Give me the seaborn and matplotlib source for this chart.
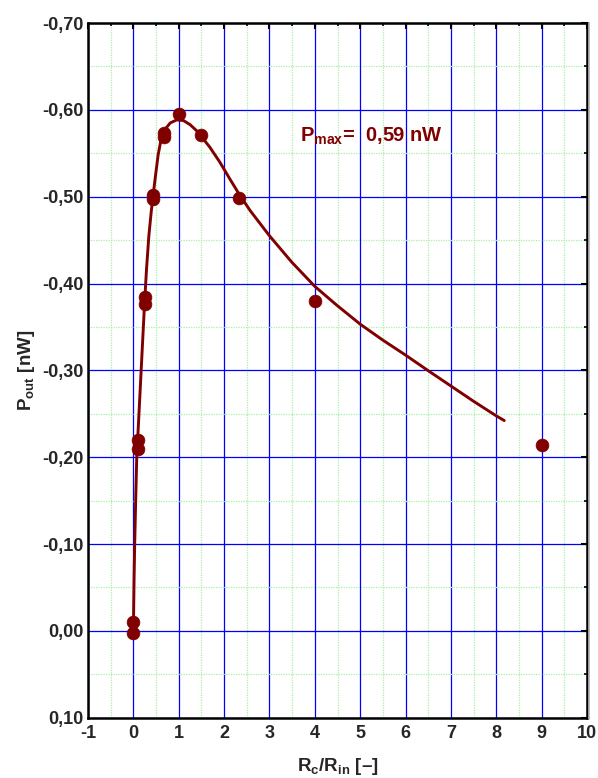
import numpy as np
import pandas as pd
import matplotlib
matplotlib.use("Agg")
import matplotlib.pyplot as plt
from matplotlib.ticker import MultipleLocator, FuncFormatter
import seaborn as sns

# Measured output power versus load ratio
ratio_meas = [0.0, 0.0, 0.11, 0.11, 0.25, 0.25, 0.43, 0.43, 0.67, 0.67, 1.0, 1.5, 2.33, 4.0, 9.0]
power_meas = [0.003, -0.010, -0.220, -0.210, -0.384, -0.377, -0.502, -0.497,
              -0.573, -0.569, -0.595, -0.571, -0.499, -0.380, -0.214]

# Fitted curve
ratio_fit = [0.0, 0.015, 0.029, 0.051, 0.074, 0.125, 0.176, 0.247, 0.29, 0.341,
             0.392, 0.436, 0.487, 0.545, 0.61, 0.704, 0.813, 0.959, 1.104, 1.249,
             1.394, 1.503, 1.685, 1.903, 2.12, 2.33, 2.574, 3.0, 3.49, 4.0,
             4.485, 5.0, 5.5, 6.0, 6.5, 7.0, 7.5, 8.0, 8.176]
power_fit = [0.0, -0.059, -0.101, -0.151, -0.200, -0.252, -0.305, -0.378, -0.417, -0.455,
             -0.482, -0.502, -0.524, -0.548, -0.566, -0.578, -0.585, -0.5885, -0.5877, -0.583,
             -0.576, -0.569, -0.557, -0.540, -0.521, -0.503, -0.484, -0.455, -0.4247, -0.3967,
             -0.375, -0.3532, -0.3348, -0.3176, -0.2996, -0.282, -0.2644, -0.2476, -0.2422]

x_ticks = list(range(-1, 11))
y_ticks = [0.10, 0.00, -0.10, -0.20, -0.30, -0.40, -0.50, -0.60, -0.70]
p_max_label = "0,59 nW"

sns.set_style("white")
plt.rcParams["font.family"] = ["Liberation Sans", "DejaVu Sans"]
plt.rcParams["font.weight"] = "bold"
plt.rcParams["mathtext.fontset"] = "custom"
plt.rcParams["mathtext.rm"] = "Liberation Sans:bold"
plt.rcParams["mathtext.it"] = "Liberation Sans:bold"
plt.rcParams["mathtext.bf"] = "Liberation Sans:bold"

maroon = "#800000"

fig = plt.figure(figsize=(5.98, 7.78), dpi=100)
ax = fig.add_axes([0.1472, 0.0775, 0.9816 - 0.1472, 0.9704 - 0.0775])

meas = pd.DataFrame({"ratio": ratio_meas, "power": power_meas})
fit = pd.DataFrame({"ratio": ratio_fit, "power": power_fit})

sns.lineplot(data=fit, x="ratio", y="power", sort=False, estimator=None,
             color=maroon, linewidth=2.1, ax=ax, zorder=3)
sns.scatterplot(data=meas, x="ratio", y="power", color=maroon, s=85,
                edgecolor=maroon, linewidth=0.5, ax=ax, zorder=4)

ax.set_xlim(-1, 10)
ax.set_ylim(0.10, -0.70)
ax.xaxis.set_major_locator(MultipleLocator(1))
ax.xaxis.set_minor_locator(MultipleLocator(0.5))
ax.yaxis.set_major_locator(MultipleLocator(0.1))
ax.yaxis.set_minor_locator(MultipleLocator(0.05))
ax.set_xticks(x_ticks)
ax.set_yticks(y_ticks)


def comma_fmt(v, pos):
    if abs(v) < 1e-9:
        v = 0.0
    return f"{v:.2f}".replace(".", ",")


ax.yaxis.set_major_formatter(FuncFormatter(comma_fmt))
ax.xaxis.set_major_formatter(FuncFormatter(lambda v, p: f"{int(round(v))}"))

ax.grid(which="major", color="#0000ff", linewidth=0.9)
ax.grid(which="minor", color="#a8f0a8", linewidth=0.9, linestyle=(0, (1, 1)))
ax.set_axisbelow(True)

for side in ["left", "right", "top", "bottom"]:
    ax.spines[side].set_visible(True)
    ax.spines[side].set_color("black")
    ax.spines[side].set_linewidth(1.8)

ax.tick_params(which="major", direction="in", length=4, width=1.5,
               top=True, right=True, labelsize=13, pad=5, color="black")
ax.tick_params(which="minor", direction="in", length=2.5, width=1.2,
               top=True, right=True, color="black")
ax.tick_params(axis="y", which="major", pad=3)
for lab in ax.get_xticklabels() + ax.get_yticklabels():
    lab.set_fontweight("bold")

ax.set_xlabel(r"$\mathrm{R}_{\mathrm{c}}$/$\mathrm{R}_{\mathrm{in}}$ [–]",
              fontsize=13.5, fontweight="bold", labelpad=10)
ax.set_ylabel(r"$\mathrm{P}_{\mathrm{out}}$ [nW]", fontsize=13.5,
              fontweight="bold", labelpad=4)

ax.text(3.68, -0.563, r"$\mathrm{P}_{\mathrm{max}}$=  " + p_max_label,
        color=maroon, fontsize=14.5, fontweight="bold", va="baseline", ha="left",
        zorder=5)

# thin grey shade along the right frame edge
fig.add_artist(plt.Line2D([0.9855, 0.9855], [0.0760, 0.9700],
                          transform=fig.transFigure, color="#b0b0b0", linewidth=1.2))

fig.savefig("out.png", dpi=100)
